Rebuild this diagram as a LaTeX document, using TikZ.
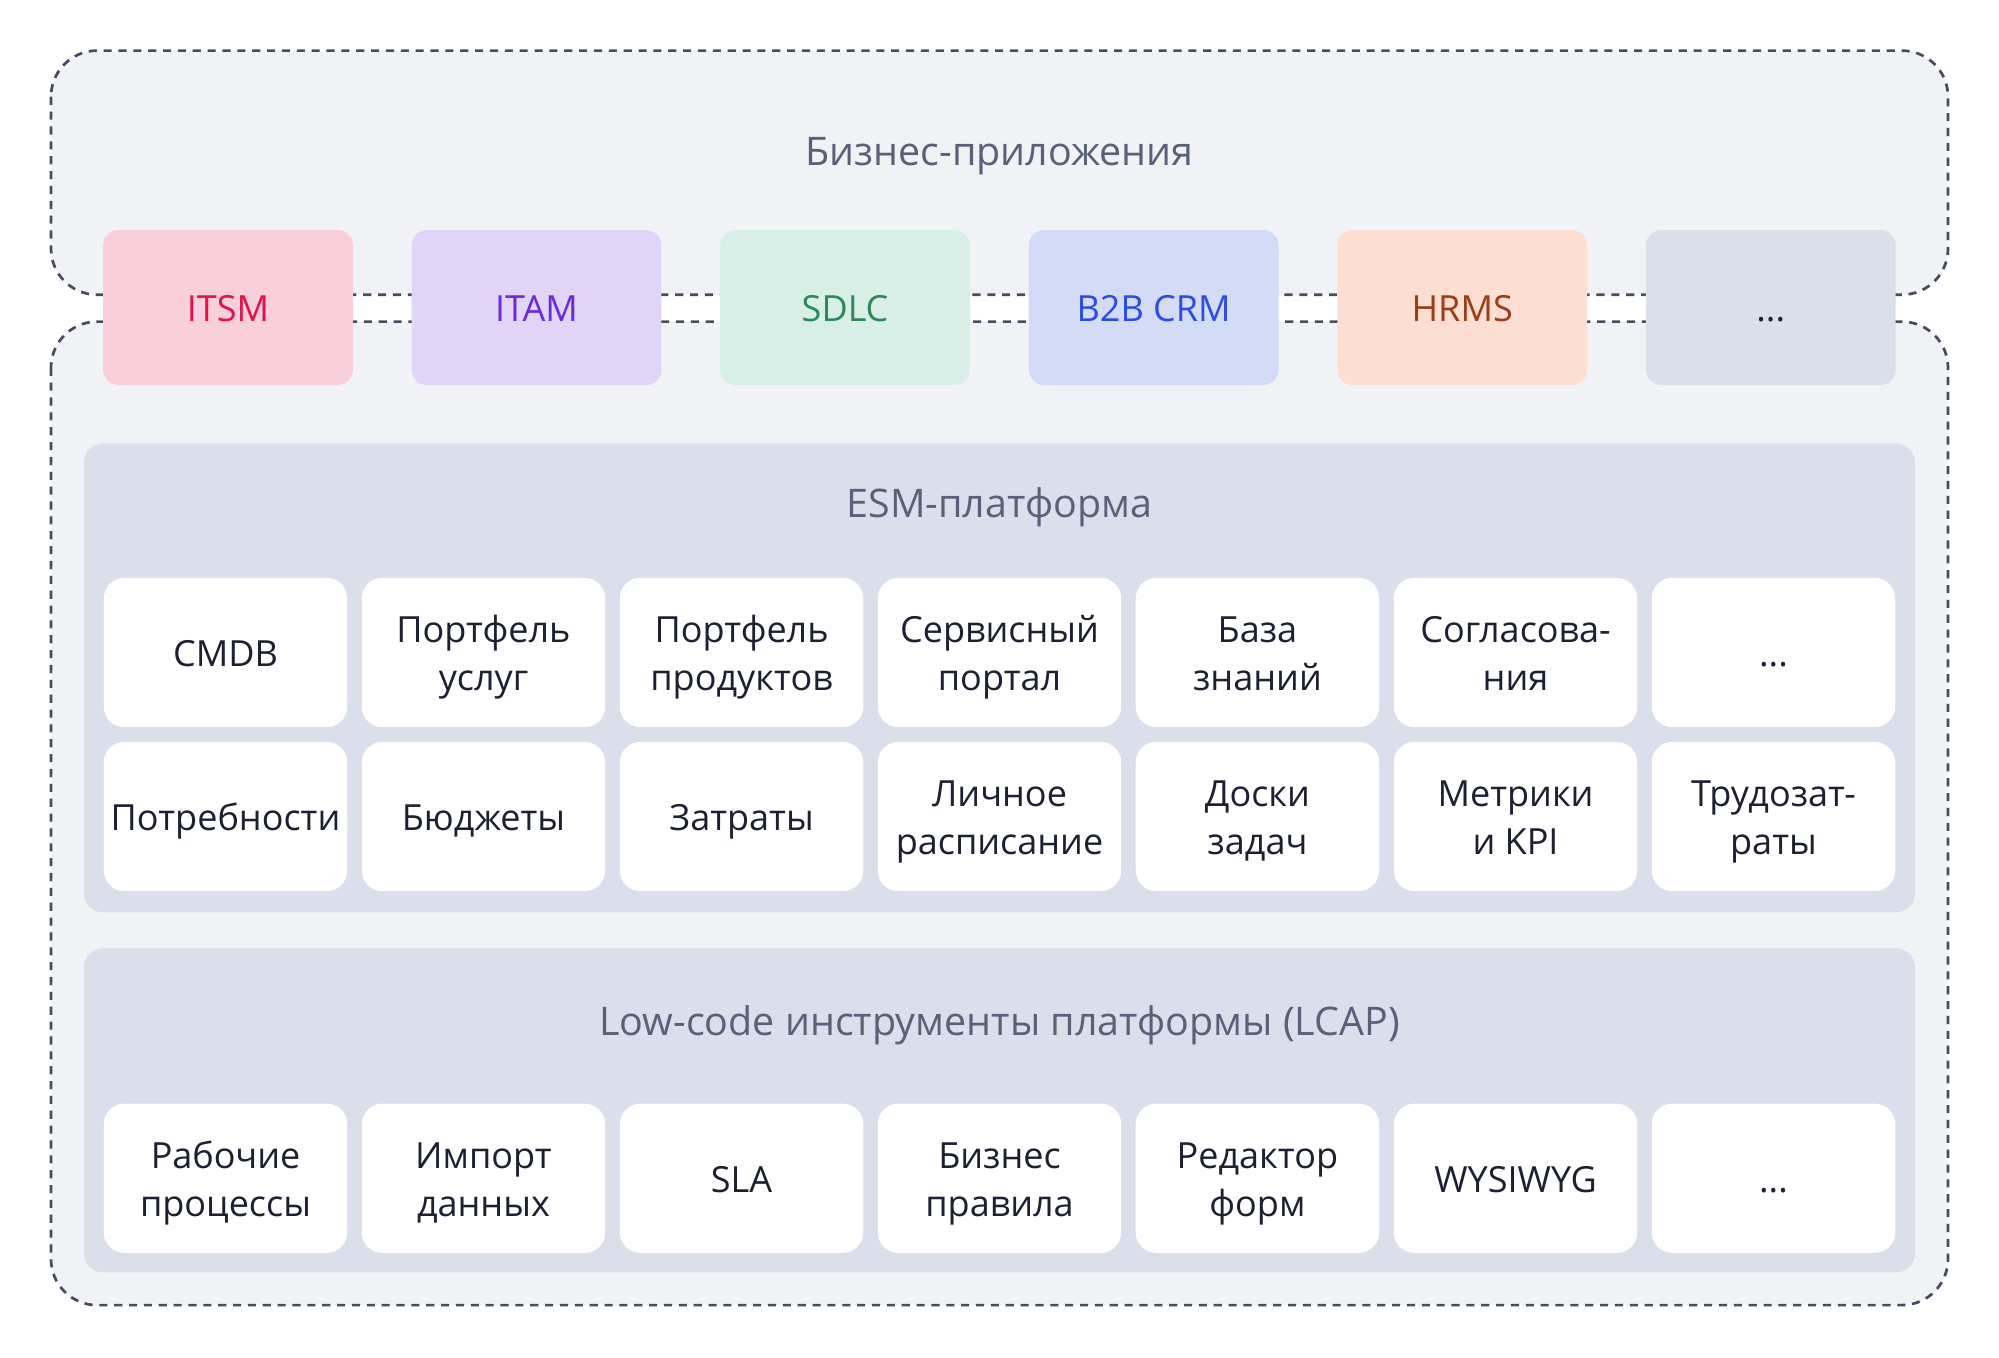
\documentclass[tikz,border=0pt]{standalone}
\usepackage{fontspec}
\setmainfont{Open Sans}
\definecolor{regionbg}{HTML}{F1F2F6}
\definecolor{panelbg}{HTML}{DBDFEB}
\definecolor{dashgray}{HTML}{464B5E}
\definecolor{titlegray}{HTML}{5A6078}
\definecolor{celltext}{HTML}{1D2030}
\definecolor{itsmfill}{HTML}{F9CFDB}
\definecolor{itsmtext}{HTML}{E2124A}
\definecolor{itamfill}{HTML}{E0D5F6}
\definecolor{itamtext}{HTML}{6A2BE0}
\definecolor{sdlcfill}{HTML}{D8EFE7}
\definecolor{sdlctext}{HTML}{2C8A5A}
\definecolor{crmfill}{HTML}{D4DBF7}
\definecolor{crmtext}{HTML}{2B4DE6}
\definecolor{hrmsfill}{HTML}{FDDED2}
\definecolor{hrmstext}{HTML}{9C3D16}
\definecolor{morefill}{HTML}{DBDFEA}

\begin{document}
\begin{tikzpicture}[x=0.02cm, y=-0.02cm,
    region/.style={fill=regionbg, draw=dashgray, line width=1.2pt, dash pattern=on 3.6pt off 3pt, rounded corners=0.72cm},
    panel/.style={fill=panelbg, rounded corners=0.3cm},
    paneltitle/.style={anchor=base, text=titlegray, font=\fontsize{17.5}{21}\selectfont},
    app/.style={minimum width=3.9cm, minimum height=2.42cm, rounded corners=0.24cm, inner sep=0pt, text height=12pt, text depth=0pt, font=\fontsize{16}{21.3}\selectfont},
    cell/.style={fill=white, minimum width=3.8cm, minimum height=2.33cm, rounded corners=0.32cm, inner sep=0pt, align=center, text=celltext, text height=12.6pt, text depth=0pt, font=\fontsize{16}{21.3}\selectfont},
    twoline/.style={cell, text height=33.9pt}]

    % Canvas
    \fill[white] (0,0) rectangle (1560,1059);
    \useasboundingbox (0,0) rectangle (1560,1059);

    % Draw regions
    \draw[region] (39.8,39.5) rectangle (1520.2,230);
    \draw[region] (39.8,251) rectangle (1520.2,1018.5);
    \node[paneltitle] (biztitle) at (780,128.8) {Бизнес-приложения};

    % Business applications
    \node[app, fill=itsmfill, text=itsmtext] (itsm) at (177.9,240) {ITSM};
    \node[app, fill=itamfill, text=itamtext] (itam) at (418.7,240) {ITAM};
    \node[app, fill=sdlcfill, text=sdlctext] (sdlc) at (659.5,240) {SDLC};
    \node[app, fill=crmfill, text=crmtext] (crm) at (900.3,240) {B2B CRM};
    \node[app, fill=hrmsfill, text=hrmstext] (hrms) at (1141.1,240) {HRMS};
    \node[app, fill=morefill, text=celltext] (appmore) at (1381.9,240) {...};

    % ESM platform
    \fill[panel] (65.5,346) rectangle (1494.5,712);
    \node[paneltitle] (esmtitle) at (780,404) {ESM-платформа};

    \node[cell] (cmdb) at (176,509.2) {CMDB};
    \node[twoline] (services) at (377.3,509.2) {Портфель\\услуг};
    \node[twoline] (products) at (578.7,509.2) {Портфель\\продуктов};
    \node[twoline] (portal) at (780,509.2) {Сервисный\\портал};
    \node[twoline] (knowledge) at (981.3,509.2) {База\\знаний};
    \node[twoline] (approvals) at (1182.7,509.2) {Согласова-\\ния};
    \node[cell] (esmmore) at (1384,509.2) {...};

    \node[cell] (needs) at (176,637.2) {Потребности};
    \node[cell] (budgets) at (377.3,637.2) {Бюджеты};
    \node[cell] (costs) at (578.7,637.2) {Затраты};
    \node[twoline] (schedule) at (780,637.2) {Личное\\расписание};
    \node[twoline] (boards) at (981.3,637.2) {Доски\\задач};
    \node[twoline] (metrics) at (1182.7,637.2) {Метрики\\и KPI};
    \node[twoline] (labor) at (1384,637.2) {Трудозат-\\раты};

    % Low-code tools
    \fill[panel] (65.5,740) rectangle (1494.5,993);
    \node[paneltitle] (lcaptitle) at (780,808) {Low-code инструменты платформы (LCAP)};

    \node[twoline] (workflows) at (176,919.5) {Рабочие\\процессы};
    \node[twoline] (import) at (377.3,919.5) {Импорт\\данных};
    \node[cell] (sla) at (578.7,919.5) {SLA};
    \node[twoline] (rules) at (780,919.5) {Бизнес\\правила};
    \node[twoline] (forms) at (981.3,919.5) {Редактор\\форм};
    \node[cell] (wysiwyg) at (1182.7,919.5) {WYSIWYG};
    \node[cell] (lcapmore) at (1384,919.5) {...};
\end{tikzpicture}
\end{document}
